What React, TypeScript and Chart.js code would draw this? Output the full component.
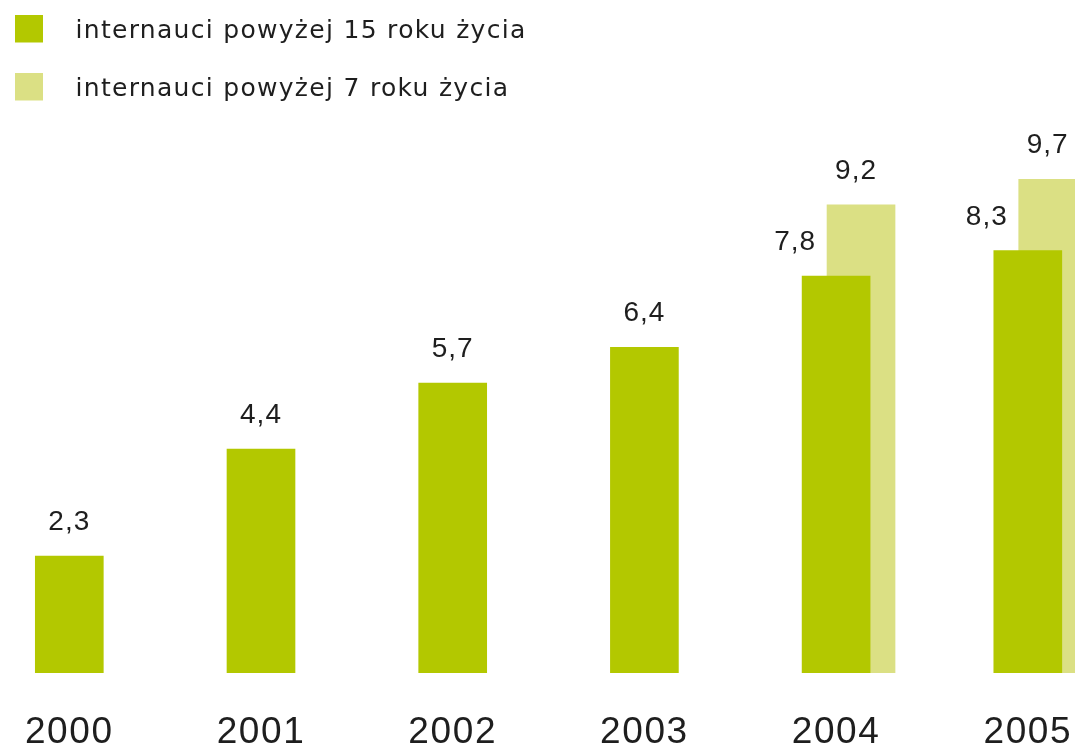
import React, { useEffect, useRef } from 'react';
import { Chart, registerables } from 'chart.js';

Chart.register(...registerables);

// ---- data ----
const years = [2000, 2001, 2002, 2003, 2004, 2005];
const users15 = [2.3, 4.4, 5.7, 6.4, 7.8, 8.3];
const years7 = [2004, 2005];
const users7 = [9.2, 9.7];
const seriesLabels = ['internauci powyżej 15 roku życia', 'internauci powyżej 7 roku życia'];

// ---- style ----
const COLORS = ['#B3C800', '#DBE084'];
const TEXT = '#1e1e1e';
const FONT = '"Liberation Sans", Arial, Helvetica, sans-serif';
const LEGEND_FONT = '"DejaVu Sans", "Liberation Sans", Arial, sans-serif';
const SERIES2_SHIFT = 0.13; // horizontal offset of the second series, in year units
const LABEL_GAP = 26;
const LABEL_DX_COVERED = -41;
const LABEL_DX_SERIES2 = -5;
const SWATCH = 28;
const SWATCH_W = 48;
const SWATCH_H = 34;
const LEGEND_TEXT_DY = 3;

const fmt = (v: number) => v.toFixed(1).replace('.', ',');

export default function App() {
  const ref = useRef<HTMLCanvasElement>(null);

  useEffect(() => {
    const canvas = ref.current!;
    const makeSwatch = (color: string) => {
      const c = document.createElement('canvas');
      c.width = SWATCH_W;
      c.height = SWATCH_H;
      const g = c.getContext('2d')!;
      g.fillStyle = color;
      g.fillRect(0, 0, SWATCH, SWATCH);
      return c;
    };
    const swatches = COLORS.map(makeSwatch);

    const valueLabels = {
      id: 'valueLabels',
      afterDatasetsDraw(chart: any) {
        const ctx = chart.ctx;
        ctx.save();
        ctx.font = `28px ${FONT}`;
        ctx.fillStyle = TEXT;
        ctx.textAlign = 'center';
        ctx.textBaseline = 'alphabetic';
        ctx.letterSpacing = '1px';
        chart.data.datasets.forEach((ds: any, di: number) => {
          const meta = chart.getDatasetMeta(di);
          meta.data.forEach((el: any, i: number) => {
            const pt = ds.data[i];
            let dx = di === 1 ? LABEL_DX_SERIES2 : 0;
            if (di === 0 && years7.includes(pt.x)) dx = LABEL_DX_COVERED;
            ctx.fillText(fmt(pt.y), el.x + dx, el.y - LABEL_GAP);
          });
        });
        ctx.restore();
      },
    };

    const spacing = {
      id: 'spacing',
      afterInit(chart: any) {
        const lg = chart.legend;
        if (lg && !lg.__patched) {
          const orig = lg.draw.bind(lg);
          lg.draw = (...a: any[]) => {
            const c = chart.ctx;
            c.save();
            c.letterSpacing = '1.3px';
            c.translate(0, LEGEND_TEXT_DY);
            orig(...a);
            c.restore();
          };
          lg.__patched = true;
        }
      },
      beforeDraw(chart: any) {
        chart.ctx.letterSpacing = '1.6px';
      },
    };

    const chart = new Chart(canvas, {
      type: 'bar',
      data: {
        datasets: [
          {
            label: seriesLabels[0],
            data: years.map((y, i) => ({ x: y, y: users15[i] })),
            backgroundColor: COLORS[0],
            barThickness: 68,
            grouped: false,
          },
          {
            label: seriesLabels[1],
            data: years7.map((y, i) => ({ x: y + SERIES2_SHIFT, y: users7[i] })),
            backgroundColor: COLORS[1],
            barThickness: 68,
            grouped: false,
          },
        ],
      } as any,
      options: {
        responsive: false,
        animation: false,
        devicePixelRatio: 1,
        layout: { padding: 0 },
        scales: {
          x: {
            type: 'linear',
            bounds: 'data',
            min: 1999.5446,
            max: 2005.2462,
            offset: false,
            grid: { display: false, drawTicks: false },
            border: { display: false },
            afterBuildTicks: (s: any) => {
              s.ticks = years.map((v) => ({ value: v }));
            },
            afterFit: (s: any) => {
              s.height = 77;
              s.paddingLeft = 0;
              s.paddingRight = 0;
            },
            ticks: {
              autoSkip: false,
              maxRotation: 0,
              minRotation: 0,
              padding: 38,
              color: TEXT,
              font: { family: FONT, size: 37 },
              callback: (v: any) => String(v),
            },
          },
          y: {
            display: false,
            bounds: 'data',
            min: 0,
            max: 13.56,
          },
        },
        plugins: {
          tooltip: { enabled: false },
          legend: {
            position: 'chartArea',
            align: 'start',
            labels: {
              usePointStyle: true,
              pointStyleWidth: SWATCH_W,
              padding: 33,
              color: TEXT,
              font: { family: LEGEND_FONT, size: 25 },
              generateLabels: (c: any) =>
                c.data.datasets.map((ds: any, i: number) => ({
                  text: ds.label,
                  fillStyle: ds.backgroundColor,
                  strokeStyle: ds.backgroundColor,
                  lineWidth: 0,
                  pointStyle: swatches[i],
                  hidden: false,
                  datasetIndex: i,
                  fontColor: TEXT,
                })),
            },
          },
        },
      } as any,
      plugins: [valueLabels, spacing],
    });
    return () => chart.destroy();
  }, []);

  return (
    <canvas
      ref={ref}
      width={1093}
      height={767}
      style={{ position: 'absolute', left: -18, top: -17, width: 1093, height: 767 }}
    />
  );
}
